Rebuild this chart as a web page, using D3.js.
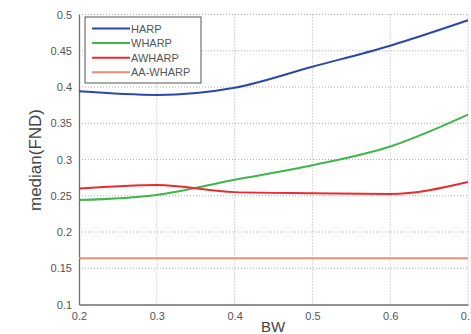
<!DOCTYPE html>
<html>
<head>
<meta charset="utf-8">
<script src="https://cdn.jsdelivr.net/npm/d3@7"></script>
<style>
  body { margin: 0; background: #fff; }
  svg { display: block; font-family: Arial, "Liberation Sans", sans-serif; }
</style>
</head>
<body>
<div class="chart"></div>
<script>
const bw = [0.2, 0.3, 0.4, 0.5, 0.6, 0.7];
const harp = [0.394, 0.389, 0.399, 0.428, 0.457, 0.492];
const wharp = [0.244, 0.251, 0.272, 0.292, 0.318, 0.362];
const awharp = [0.260, 0.265, 0.255, 0.2535, 0.2525, 0.269];
const aaWharp = [0.1637, 0.1637, 0.1637, 0.1637, 0.1637, 0.1637];
const xTicks = [0.2, 0.3, 0.4, 0.5, 0.6, 0.7];
const yTicks = [0.1, 0.15, 0.2, 0.25, 0.3, 0.35, 0.4, 0.45, 0.5];

const series = [
  { name: 'HARP', values: harp, color: '#2b47a8', width: 2 },
  { name: 'WHARP', values: wharp, color: '#3fb54c', width: 2 },
  { name: 'AWHARP', values: awharp, color: '#ea2a2e', width: 2 },
  { name: 'AA-WHARP', values: aaWharp, color: '#eb8f7c', width: 2 },
];

const W = 471, H = 334;
const margin = { top: 14.5, right: 3, bottom: 29.5, left: 79 };
const width = W - margin.left - margin.right;
const height = H - margin.top - margin.bottom;

const x = d3.scaleLinear().domain([0.2, 0.7]).range([0, width]);
const y = d3.scaleLinear().domain([0.1, 0.5]).range([height, 0]);

const svg = d3.select('.chart').append('svg')
  .attr('width', W).attr('height', H)
  .append('g')
  .attr('transform', `translate(${margin.left},${margin.top})`);

// dotted grid
svg.append('g').selectAll('line.gx')
  .data(xTicks.slice(1))
  .enter().append('line')
  .attr('x1', d => x(d)).attr('x2', d => x(d))
  .attr('y1', 0).attr('y2', height)
  .attr('stroke', '#9a9a9a').attr('stroke-width', 0.8)
  .attr('stroke-dasharray', '1,2');
svg.append('g').selectAll('line.gy')
  .data(yTicks.slice(1))
  .enter().append('line')
  .attr('x1', 0).attr('x2', width)
  .attr('y1', d => y(d)).attr('y2', d => y(d))
  .attr('stroke', '#9a9a9a').attr('stroke-width', 0.8)
  .attr('stroke-dasharray', '1,2');

// axes
const xAxis = svg.append('g')
  .attr('transform', `translate(0,${height})`)
  .call(d3.axisBottom(x).tickValues(xTicks).tickSize(0).tickPadding(8).tickFormat(d3.format('')));
const yAxis = svg.append('g')
  .call(d3.axisLeft(y).tickValues(yTicks).tickSize(0).tickPadding(7).tickFormat(d3.format('')));
[xAxis, yAxis].forEach(a => {
  a.select('.domain').attr('stroke', '#6e6e6e').attr('stroke-width', 1.3);
  a.selectAll('text').attr('font-size', 11).attr('fill', '#555')
    .attr('font-family', 'Arial, "Liberation Sans", sans-serif');
});

// lines
const line = d3.line()
  .x((d, i) => x(bw[i]))
  .y(d => y(d))
  .curve(d3.curveMonotoneX);

svg.selectAll('path.series')
  .data(series)
  .enter().append('path')
  .attr('class', 'series')
  .attr('fill', 'none')
  .attr('stroke', d => d.color)
  .attr('stroke-width', d => d.width)
  .attr('d', d => line(d.values));

// axis titles
svg.append('text')
  .attr('x', 273 - margin.left).attr('y', 332 - margin.top)
  .attr('text-anchor', 'middle')
  .attr('font-size', 15).attr('fill', '#444')
  .text('BW');
svg.append('text')
  .attr('transform', `translate(${41 - margin.left},${160 - margin.top}) rotate(-90)`)
  .attr('text-anchor', 'middle')
  .attr('font-size', 17).attr('fill', '#444')
  .text('median(FND)');

// legend
const legend = svg.append('g').attr('transform', `translate(${85 - margin.left},${17 - margin.top})`);
legend.append('rect')
  .attr('width', 116).attr('height', 66)
  .attr('fill', '#fff').attr('stroke', '#555').attr('stroke-width', 1);
const item = legend.selectAll('g.item')
  .data(series)
  .enter().append('g')
  .attr('transform', (d, i) => `translate(0,${11.5 + i * 14.6})`);
item.append('line')
  .attr('x1', 7).attr('x2', 45)
  .attr('stroke', d => d.color).attr('stroke-width', 2);
item.append('text')
  .attr('x', 46).attr('y', 4)
  .attr('font-size', 11).attr('fill', '#555')
  .text(d => d.name);
</script>
</body>
</html>
